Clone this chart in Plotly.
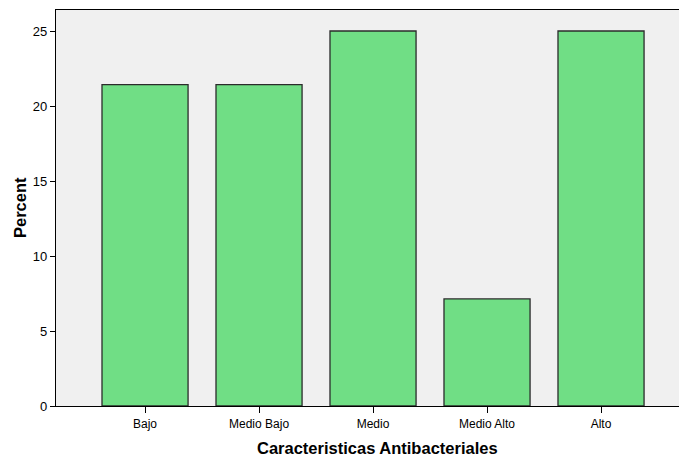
import plotly.graph_objects as go

# Percent of respondents per antibacterial-property level
categories = ["Bajo", "Medio Bajo", "Medio", "Medio Alto", "Alto"]
percent = [21.43, 21.43, 25.0, 7.14, 25.0]
y_ticks = [0, 5, 10, 15, 20, 25]

font_family = "Liberation Sans, Arial, sans-serif"

fig = go.Figure(
    go.Bar(
        x=list(range(len(categories))),
        y=percent,
        width=0.755,
        marker=dict(color="#70DE85", line=dict(color="#2b2b2b", width=1.3)),
    )
)

fig.update_layout(
    width=679,
    height=459,
    margin=dict(l=56, r=0, t=10, b=53),
    paper_bgcolor="white",
    plot_bgcolor="#F0F0F0",
    showlegend=False,
    font=dict(family=font_family, color="#000000"),
    xaxis=dict(
        range=[-0.781, 4.684],
        tickmode="array",
        tickvals=list(range(len(categories))),
        ticktext=categories,
        ticks="outside",
        ticklen=6,
        tickwidth=1.3,
        tickcolor="#000000",
        showline=True,
        linecolor="#000000",
        linewidth=1.3,
        mirror=True,
        showgrid=False,
        zeroline=False,
        tickfont=dict(size=12),
    ),
    yaxis=dict(
        range=[0, 26.4],
        tickmode="array",
        tickvals=y_ticks,
        ticks="outside",
        ticklen=5,
        tickwidth=1.3,
        tickcolor="#000000",
        showline=True,
        linecolor="#000000",
        linewidth=1.3,
        showgrid=False,
        zeroline=False,
        tickfont=dict(size=13),
    ),
    annotations=[
        # x-axis title, centred under the middle category
        dict(
            text="<b>Caracteristicas Antibacteriales</b>",
            x=2,
            xref="x",
            xshift=4,
            y=0,
            yref="paper",
            yanchor="top",
            yshift=-32,
            borderpad=0,
            showarrow=False,
            font=dict(size=16.5),
        ),
        # y-axis title
        dict(
            text="<b>Percent</b>",
            x=-36 / 623,
            xref="paper",
            xanchor="center",
            y=0.5,
            yref="paper",
            yanchor="middle",
            textangle=-90,
            showarrow=False,
            font=dict(size=16.5),
        ),
    ],
)

fig.write_html("out.html")
